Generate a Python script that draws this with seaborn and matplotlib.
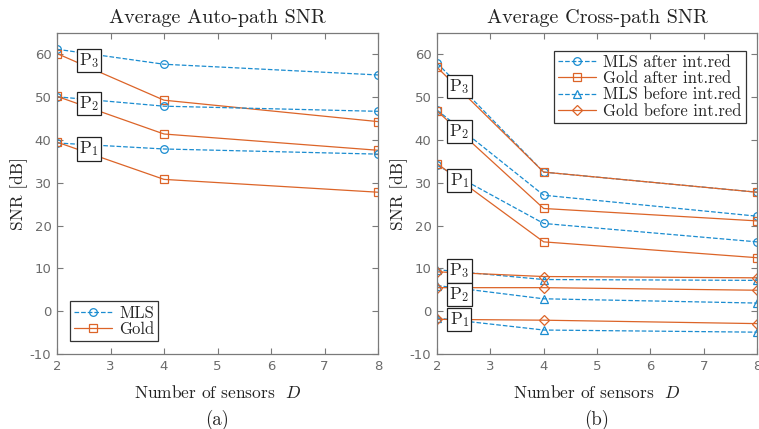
import numpy as np
import pandas as pd
import matplotlib
matplotlib.use("Agg")
import matplotlib.pyplot as plt
import seaborn as sns

# ==============================================================================
# DADOS
# ==============================================================================
sensores = [2, 4, 8]

# Auto-path SNR [dB]
auto_mls = {"P3": [61.2, 57.7, 55.2], "P2": [50.1, 47.9, 46.7], "P1": [39.3, 37.9, 36.7]}
auto_gold = {"P3": [60.2, 49.3, 44.3], "P2": [50.2, 41.4, 37.6], "P1": [39.5, 30.8, 27.8]}

# Cross-path SNR [dB]
cross_mls_depois = {"P3": [58.0, 32.5, 27.8], "P2": [47.0, 27.1, 22.2], "P1": [34.1, 20.5, 16.2]}
cross_gold_depois = {"P3": [57.0, 32.5, 27.8], "P2": [46.8, 24.0, 21.1], "P1": [34.5, 16.2, 12.5]}
cross_mls_antes = {"P3": [9.7, 7.4, 7.2], "P2": [6.0, 2.9, 1.9], "P1": [-1.6, -4.4, -4.9]}
cross_gold_antes = {"P3": [9.2, 8.1, 7.8], "P2": [5.5, 5.5, 4.9], "P1": [-1.9, -2.1, -2.9]}

rotulos_auto = {"P3": 58.6, "P2": 48.6, "P1": 37.9}
rotulos_cross = [("P3", 52.5), ("P2", 41.9), ("P1", 30.6), ("P3", 9.4), ("P2", 4.0), ("P1", -1.9)]

AZUL = "#1a8cd0"
LARANJA = "#dc6428"
CINZA = "#7a7a7a"

# ==============================================================================
# ESTILO
# ==============================================================================
sns.set_theme(style="white")
plt.rcParams.update({
    "font.family": ["DejaVu Sans"],
    "mathtext.fontset": "cm",
    "axes.unicode_minus": False,
    "axes.edgecolor": CINZA,
    "axes.linewidth": 0.9,
    "xtick.color": CINZA,
    "ytick.color": CINZA,
    "xtick.labelcolor": "#6b6b6b",
    "ytick.labelcolor": "#6b6b6b",
    "xtick.labelsize": 9.5,
    "ytick.labelsize": 9.5,
})
SERIF = "cmr10"


def desenhar_serie(ax, valores, cor, estilo, marcador, rotulo=None):
    df = pd.DataFrame({"D": sensores, "snr": valores})
    sns.lineplot(data=df, x="D", y="snr", ax=ax, color=cor, linestyle=estilo,
                 marker=marcador, markersize=5.5, markerfacecolor="none",
                 markeredgecolor=cor, markeredgewidth=0.9, linewidth=0.9,
                 label=rotulo)


def caixa(ax, x, y, nome):
    ax.text(x, y, "P$_{%s}$" % nome[1], family=SERIF, fontsize=12.5,
            ha="center", va="center", zorder=5,
            bbox=dict(boxstyle="square,pad=0.12", fc="white", ec="#222222", lw=0.9))


def formatar_eixo(ax, titulo, letra):
    ax.set_xlim(2, 8)
    ax.set_ylim(-10, 65)
    ax.set_xticks(range(2, 9))
    ax.set_yticks(range(-10, 61, 10))
    ax.tick_params(direction="in", length=4, width=0.8, top=True, right=True,
                   bottom=True, left=True, pad=4)
    ax.set_title(titulo, family=SERIF, fontsize=14.5, pad=7, color="#222222")
    ax.set_xlabel("Number of sensors  $D$", family=SERIF, fontsize=12.5, labelpad=8,
                  color="#222222")
    ax.set_ylabel("SNR [dB]", family=SERIF, fontsize=12.5, labelpad=1, color="#222222")
    ax.text(0.5, -0.205, letra, transform=ax.transAxes, family=SERIF, fontsize=13.5,
            ha="center", va="center", color="#222222")
    for s in ax.spines.values():
        s.set_visible(True)


fig = plt.figure(figsize=(7.59, 4.29), dpi=100)
ax1 = fig.add_axes([57 / 759, 75 / 429, 321 / 759, 321 / 429])
ax2 = fig.add_axes([437 / 759, 75 / 429, 320 / 759, 321 / 429])

# GRÁFICO (a): AUTO-PATH
for i, p in enumerate(["P3", "P2", "P1"]):
    desenhar_serie(ax1, auto_mls[p], AZUL, "--", "o", "MLS" if i == 0 else None)
    desenhar_serie(ax1, auto_gold[p], LARANJA, "-", "s", "Gold" if i == 0 else None)
for p, y in rotulos_auto.items():
    caixa(ax1, 2.6, y, p)

formatar_eixo(ax1, "Average Auto-path SNR", "(a)")
leg1 = ax1.legend(loc="lower left", bbox_to_anchor=(0.04, 0.04), prop={"family": SERIF, "size": 12},
                  fancybox=False, framealpha=1, edgecolor="#333333", handlelength=2.3,
                  borderpad=0.25, labelspacing=0.05, handletextpad=0.4, borderaxespad=0)
leg1.get_frame().set_linewidth(0.9)

# GRÁFICO (b): CROSS-PATH
for i, p in enumerate(["P3", "P2", "P1"]):
    desenhar_serie(ax2, cross_mls_depois[p], AZUL, "--", "o", "MLS after int.red" if i == 0 else None)
    desenhar_serie(ax2, cross_gold_depois[p], LARANJA, "-", "s", "Gold after int.red" if i == 0 else None)
for i, p in enumerate(["P3", "P2", "P1"]):
    desenhar_serie(ax2, cross_mls_antes[p], AZUL, "--", "^", "MLS before int.red" if i == 0 else None)
    desenhar_serie(ax2, cross_gold_antes[p], LARANJA, "-", "D", "Gold before int.red" if i == 0 else None)
for p, y in rotulos_cross:
    caixa(ax2, 2.42, y, p)

formatar_eixo(ax2, "Average Cross-path SNR", "(b)")
handles, labels = ax2.get_legend_handles_labels()
ordem = ["MLS after int.red", "Gold after int.red", "MLS before int.red", "Gold before int.red"]
hmap = dict(zip(labels, handles))
for h in hmap.values():
    if h.get_marker() == "D":
        h.set_markersize(5)
leg2 = ax2.legend([hmap[k] for k in ordem], ordem, loc="upper right", bbox_to_anchor=(0.965, 0.945),
                  prop={"family": SERIF, "size": 12}, fancybox=False, framealpha=1,
                  edgecolor="#333333", handlelength=2.3, borderpad=0.25, labelspacing=0.05,
                  handletextpad=0.4, borderaxespad=0)
leg2.get_frame().set_linewidth(0.9)

fig.savefig("out.png", dpi=100)
